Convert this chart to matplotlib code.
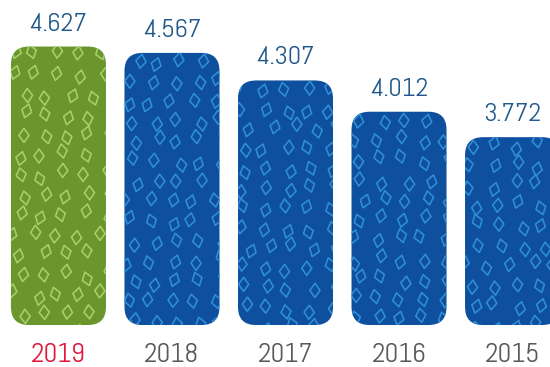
import matplotlib.pyplot as plt
import numpy as np
from matplotlib.patches import FancyBboxPatch
from matplotlib.markers import MarkerStyle
from matplotlib.transforms import Affine2D

years = ['2019', '2018', '2017', '2016', '2015']
values = [4.627, 4.567, 4.307, 4.012, 3.772]
labels = ['4.627', '4.567', '4.307', '4.012', '3.772']

bar_colors = ['#6a962d', '#0e4f9e', '#0e4f9e', '#0e4f9e', '#0e4f9e']
dot_colors = ['#a9cf6b', '#2e8fd8', '#2e8fd8', '#2e8fd8', '#2e8fd8']
year_colors = ['#e2173f', '#595959', '#595959', '#595959', '#595959']
value_color = '#22598c'

base = 2.0
plt.rcParams['font.family'] = ['Abel', 'DejaVu Sans']

fig = plt.figure(figsize=(5.5, 3.67), dpi=100)
ax = fig.add_axes([0, 0, 1, 1])
ax.set_xlim(-0.515, 4.33)
ax.set_ylim(1.604, 5.066)
ax.axis('off')

width = 0.837
xpx = 1 / 113.5  # x units per pixel
ypx = 1 / 106.0  # y units per pixel
radius = 18 * xpx


def hash01(k):
    # cheap deterministic hash for the texture jitter
    v = np.sin(k * 12.9898) * 43758.5453
    return v - np.floor(v)


for i in range(len(years)):
    x0 = i - width / 2
    h = values[i] - base
    patch = FancyBboxPatch((x0, base), width, h,
                           boxstyle='round,pad=0,rounding_size=%f' % radius,
                           mutation_aspect=ypx / xpx,
                           facecolor=bar_colors[i], edgecolor='none')
    ax.add_patch(patch)

    # diamond texture
    rows = int(h / (20 * ypx)) + 2
    k = 0
    for r in range(rows):
        shift = 12 * hash01(r * 3.1 + i)
        for c in range(5):
            k += 1
            jx = (hash01(k + i * 100) - 0.5) * 8
            jy = (hash01(k * 1.7 + i * 50) - 0.5) * 9
            ang = (hash01(k * 2.3 + i) - 0.5) * 40
            m = MarkerStyle('D', transform=Affine2D().scale(0.72, 1.0).rotate_deg(ang))
            sc = ax.scatter([x0 + (2 + shift + c * 22 + jx) * xpx],
                            [values[i] - (8 + r * 20 + jy) * ypx],
                            s=52, marker=m, facecolors='none',
                            edgecolors=dot_colors[i], linewidths=1.15)
            sc.set_clip_path(patch)

    ax.annotate(labels[i], (i, values[i]), xytext=(0, 11.5), textcoords='offset points',
                ha='center', va='baseline', fontsize=19, color=value_color)
    ax.text(i, base - 37 * ypx, years[i], ha='center', va='baseline',
            fontsize=19.5, color=year_colors[i])

fig.savefig('out.png', dpi=100)
